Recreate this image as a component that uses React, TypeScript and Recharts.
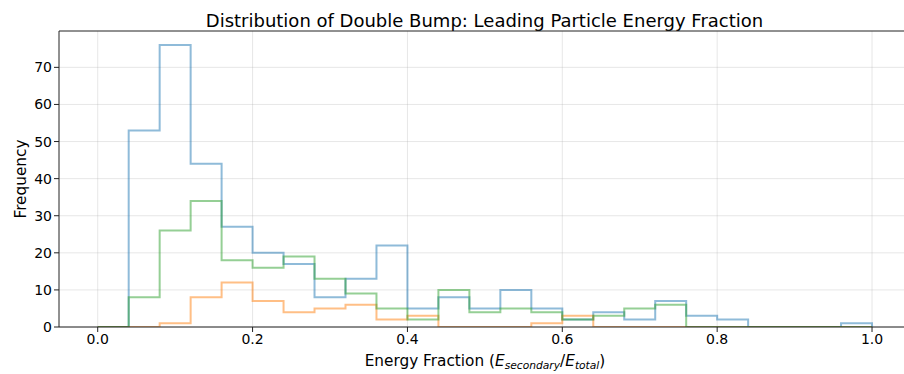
import * as React from 'react';
import {
  LineChart, Line, XAxis, YAxis, CartesianGrid, ReferenceLine,
} from 'recharts';

// bin edges of the histogram (width 0.04)
const binEdges = [
  0.0, 0.04, 0.08, 0.12, 0.16, 0.2, 0.24, 0.28, 0.32, 0.36, 0.4, 0.44, 0.48,
  0.52, 0.56, 0.6, 0.64, 0.68, 0.72, 0.76, 0.8, 0.84, 0.88, 0.92, 0.96, 1.0,
];

// counts per bin
const blueCounts = [0, 53, 76, 44, 27, 20, 17, 8, 13, 22, 5, 8, 5, 10, 5, 2, 4, 2, 7, 3, 2, 0, 0, 0, 1];
const orangeCounts = [0, 0, 1, 8, 12, 7, 4, 5, 6, 2, 3, 0, 0, 0, 1, 3, 0, 0, 0, 0, 0, 0, 0, 0, 0];
const greenCounts = [0, 8, 26, 34, 18, 16, 19, 13, 9, 5, 2, 10, 4, 5, 4, 2, 3, 5, 6, 0, 0, 0, 0, 0, 0];

const xTicks = [0, 0.2, 0.4, 0.6, 0.8, 1.0];
const yTicks = [0, 10, 20, 30, 40, 50, 60, 70];

const FONT = '"DejaVu Sans", sans-serif';
const Y_MAX = 79.8;

// step outline like matplotlib histtype="step": up from baseline, across, down at the end
function stepData(counts: number[]) {
  const pts = [{ x: binEdges[0], y: 0 }];
  counts.forEach((c, i) => pts.push({ x: binEdges[i], y: c }));
  pts.push({ x: binEdges[binEdges.length - 1], y: 0 });
  return pts;
}

const series = [
  { key: 'blue', color: '#1f77b4', data: stepData(blueCounts) },
  { key: 'orange', color: '#ff7f0e', data: stepData(orangeCounts) },
  { key: 'green', color: '#2ca02c', data: stepData(greenCounts) },
];

const XLabel = () => (
  <text x={485} y={366} textAnchor="middle" fontFamily={FONT} fontSize={15.3} fill="#000">
    Energy Fraction (
    <tspan fontStyle="italic">E</tspan>
    <tspan fontStyle="italic" fontSize={10.7} dy={3}>secondary</tspan>
    <tspan dy={-3}>/</tspan>
    <tspan fontStyle="italic">E</tspan>
    <tspan fontStyle="italic" fontSize={10.7} dy={3}>total</tspan>
    <tspan dy={-3}>)</tspan>
  </text>
);

const YLabel = () => (
  <text
    x={0} y={0}
    transform="translate(26,179) rotate(-90)"
    textAnchor="middle"
    fontFamily={FONT} fontSize={15.3} fill="#000"
  >
    Frequency
  </text>
);

export default function App() {
  return (
    <div style={{ position: 'absolute', left: 0, top: 0, width: 904, height: 374, background: 'white', overflow: 'hidden' }}>
      <div style={{
        position: 'absolute', top: 11, left: 0, width: 969, textAlign: 'center',
        fontFamily: FONT, fontSize: 18, color: '#000', lineHeight: '20px',
      }}>
        Distribution of Double Bump: Leading Particle Energy Fraction
      </div>
      <LineChart width={904} height={374} margin={{ top: 31, right: 0, bottom: 0, left: 0 }}>
        <CartesianGrid stroke="#b0b0b0" strokeOpacity={0.3} strokeWidth={1} horizontalValues={yTicks} verticalValues={xTicks} />
        <XAxis
          type="number"
          dataKey="x"
          domain={[-0.05, 1.0413]}
          allowDataOverflow
          ticks={xTicks}
          tickFormatter={(v: number) => v.toFixed(1)}
          height={47}
          tickSize={5}
          tick={{ fontSize: 14, fill: '#000', fontFamily: FONT }}
          axisLine={{ stroke: '#222', strokeWidth: 1 }}
          tickLine={{ stroke: '#222' }}
          label={<XLabel />}
        />
        <YAxis
          type="number"
          domain={[0, Y_MAX]}
          allowDataOverflow
          ticks={yTicks}
          width={59}
          tickSize={5}
          tick={{ fontSize: 14, fill: '#000', fontFamily: FONT }}
          axisLine={{ stroke: '#222', strokeWidth: 1 }}
          tickLine={{ stroke: '#222' }}
          label={<YLabel />}
        />
        <ReferenceLine y={Y_MAX} stroke="#222" strokeWidth={1} ifOverflow="visible" />
        {series.map(s => (
          <Line
            key={s.key}
            data={s.data}
            dataKey="y"
            type="stepAfter"
            stroke={s.color}
            strokeOpacity={0.5}
            strokeWidth={2}
            dot={false}
            activeDot={false}
            isAnimationActive={false}
          />
        ))}
      </LineChart>
    </div>
  );
}
